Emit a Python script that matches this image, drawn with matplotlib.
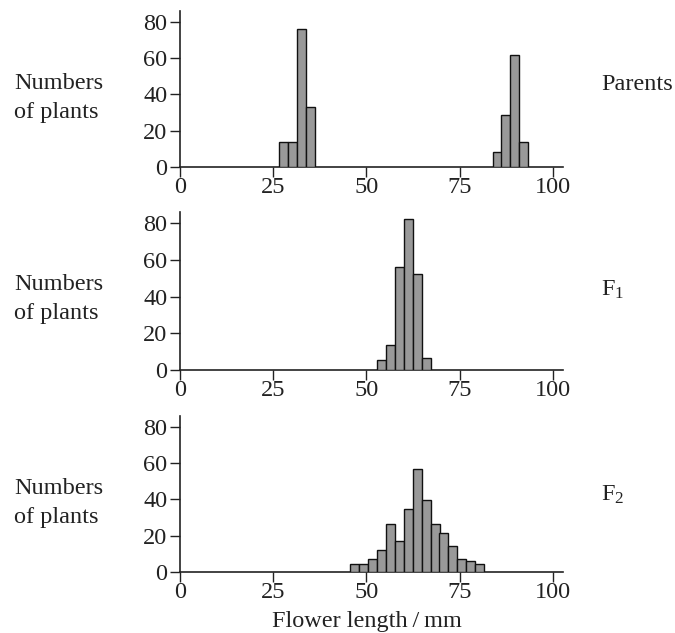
import matplotlib
matplotlib.use("Agg")
import matplotlib.pyplot as plt

# ' Data: class centres (mm) and numbers of plants
BIN_W = 2.39  # class interval, mm

parents_len = [27.7, 30.1, 32.5, 34.9, 85.1, 87.4, 89.8, 92.2]
parents_n = [13.6, 13.6, 76.1, 33.0, 8.4, 28.4, 61.6, 13.6]

f1_len = [54.0, 56.4, 58.8, 61.2, 63.6, 66.0]
f1_n = [5.6, 13.6, 56.2, 82.4, 52.5, 6.5]

f2_len = [46.8, 49.2, 51.6, 54.0, 56.4, 58.8, 61.2, 63.6, 66.0,
          68.4, 70.7, 73.1, 75.5, 77.9, 80.3]
f2_n = [4.2, 4.2, 7.2, 12.3, 26.4, 16.9, 35.0, 56.7, 39.6,
        26.4, 21.3, 14.5, 7.2, 5.9, 4.2]

x_ticks = [0, 25, 50, 75, 100]
y_ticks = [0, 20, 40, 60, 80]
panel_names = ["Parents", "F$_1$", "F$_2$"]

# figure size in pixels
W, H = 675, 633

plt.rcParams['font.family'] = ['Liberation Serif', 'DejaVu Serif']
plt.rcParams['mathtext.fontset'] = 'custom'
plt.rcParams['mathtext.rm'] = 'Liberation Serif'
plt.rcParams['mathtext.it'] = 'Liberation Serif'
FS = 17.5

fig = plt.figure(figsize=(W / 100, H / 100), dpi=100)

# (x-axis y pixel, top pixel) for each panel
panels = [(167, 11), (370, 212), (572, 416)]
series = [(parents_len, parents_n), (f1_len, f1_n), (f2_len, f2_n)]
label_y = [98, 299, 503]
name_y = [84, 290, 495]

for i, ((y0, y1), (xs, ns)) in enumerate(zip(panels, series)):
    ax = fig.add_axes([180 / W, 1 - y0 / H, 383 / W, (y0 - y1) / H])
    ax.bar(xs, ns, width=BIN_W, color='#999999', edgecolor='#111111',
           linewidth=1.0, zorder=3)
    ax.set_xlim(0, 102.7)
    ax.set_ylim(0, 86)
    ax.set_xticks(x_ticks)
    ax.set_yticks(y_ticks)
    ax.tick_params(axis='both', labelsize=FS, length=7, width=1.0,
                   direction='out', colors='#222222')
    ax.tick_params(axis='x', pad=0)
    ax.tick_params(axis='y', pad=2)
    for s in ['top', 'right']:
        ax.spines[s].set_visible(False)
    for s in ['left', 'bottom']:
        ax.spines[s].set_linewidth(1.2)
        ax.spines[s].set_color('#222222')

    fig.text(14 / W, 1 - label_y[i] / H, "Numbers\nof plants", fontsize=FS,
             ha='left', va='center', linespacing=1.5, color='#222222')
    fig.text(601 / W, 1 - name_y[i] / H, panel_names[i], fontsize=FS,
             ha='left', va='center', color='#222222')

fig.text(367 / W, 1 - 621 / H, "Flower length\u2009/\u2009mm", fontsize=FS,
         ha='center', va='center', color='#222222')

fig.savefig("out.png", dpi=100, facecolor='white')
